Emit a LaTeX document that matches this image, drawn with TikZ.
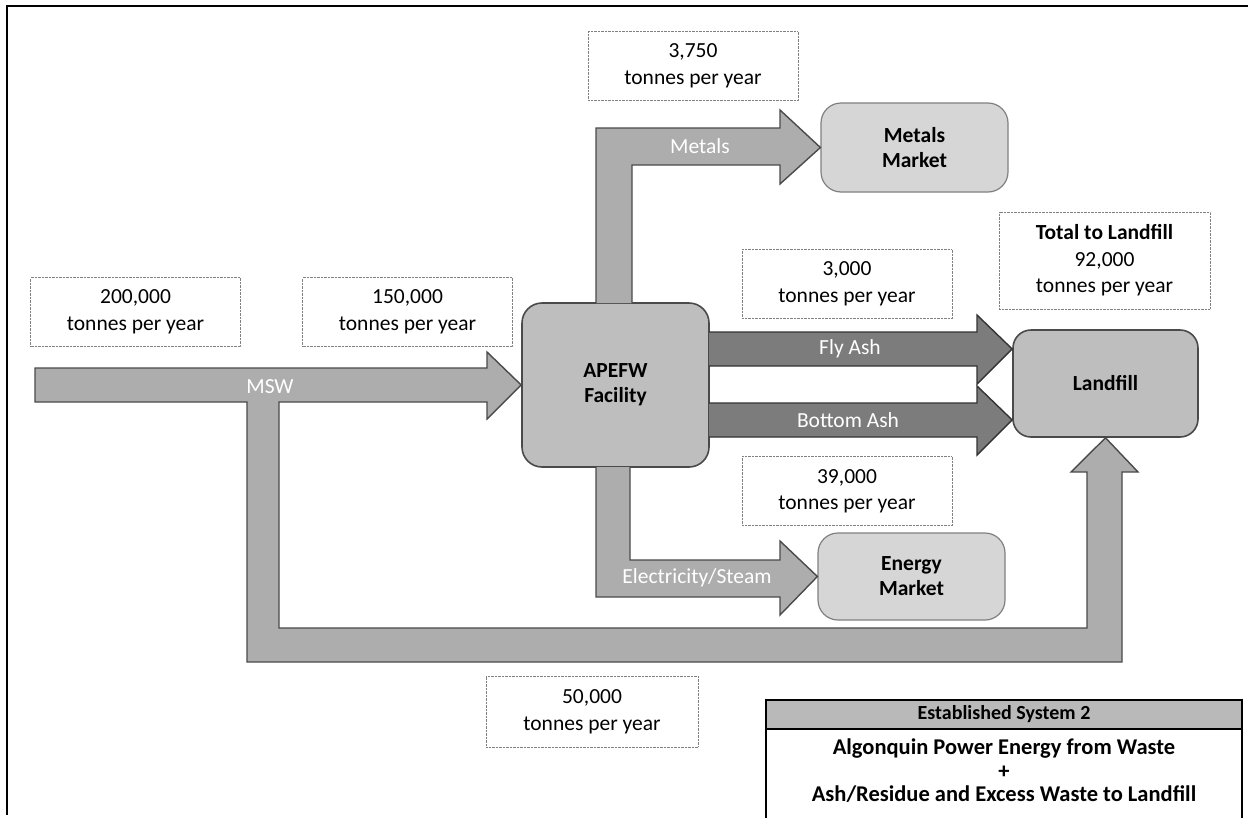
\documentclass[tikz,border=0pt]{standalone}
\usepackage{fontspec}
\setmainfont{Carlito}

\definecolor{flowgray}{HTML}{ADADAD}
\definecolor{ashgray}{HTML}{7C7C7C}
\definecolor{boxgray}{HTML}{BEBEBE}
\definecolor{marketgray}{HTML}{D6D6D6}
\definecolor{edgegray}{HTML}{4A4A4A}

\tikzset{
	tonnes/.style={draw=gray, densely dotted, fill=white, minimum width=210pt, minimum height=69pt, align=center, font=\fontsize{21.5}{26.5}\selectfont},
	site/.style={draw=edgegray, line width=1.6pt, rounded corners=20pt, fill=boxgray, align=center, font=\bfseries\fontsize{21.5}{25}\selectfont},
	market/.style={site, draw=gray, line width=1.2pt, fill=marketgray},
	flow/.style={fill=flowgray, draw=edgegray, line width=1.4pt},
	ash/.style={flow, fill=ashgray, draw=black!80},
	flowtext/.style={text=white, font=\fontsize{21.5}{24}\selectfont}
}

\begin{document}
\begin{tikzpicture}[x=1pt, y=-1pt]
				\useasboundingbox (0,0) rectangle (1248,817);
				\draw[line width=1.5pt] (1248,6) -- (7,6) -- (7,815);
				
				\node[site, minimum width=187pt, minimum height=164pt] (apefw) at (615.5,385) {APEFW\\Facility};
				\node[site, minimum width=185pt, minimum height=107pt, rounded corners=18pt] (landfill) at (1105.5,383.5) {Landfill};
				\node[market, minimum width=187pt, minimum height=89pt] (metals) at (914.5,147.5) {Metals\\Market};
				\node[market, minimum width=187pt, minimum height=87pt] (energy) at (911.5,576.5) {Energy\\Market};
				
				\node[tonnes] (msw200) at (135.5,312) {200,000\\tonnes per year};
				\node[tonnes] (msw150) at (407.5,312) {150,000\\tonnes per year};
				\node[tonnes] (metals3750) at (693,66) {3,750\\tonnes per year};
				\node[tonnes] (fly3000) at (847,284) {3,000\\tonnes per year};
				\node[tonnes] (bottom39000) at (847,491) {39,000\\tonnes per year};
				\node[tonnes, minimum width=211pt, minimum height=97pt] (total92000) at (1104.5,260.5) {\textbf{Total to Landfill}\\92,000\\tonnes per year};
				\node[tonnes, minimum width=212pt, minimum height=71pt] (msw50000) at (592,711.5) {50,000\\tonnes per year};
				
				% MSW in, split to facility and landfill
				\draw[flow] (35,368) -- (487,368) -- (487,352) -- (apefw.west) -- (487,419) -- (487,402) -- (279,402) -- (279,628) -- (1087,628) -- (1087,472) -- (1071,472) -- (landfill.south) -- (1138,472) -- (1122,472) -- (1122,662) -- (247,662) -- (247,402) -- (35,402) -- cycle;
				
				\draw[flow] (596,303) -- (596,128) -- (780,128) -- (780,110) -- (metals.west) -- (780,184) -- (780,165) -- (632,165) -- (632,303);
				\draw[flow] (596,467) -- (596,597) -- (780,597) -- (780,615) -- (energy.west) -- (780,541) -- (780,560) -- (630,560) -- (630,467);
				
				\draw[ash] (709,332) -- (977,332) -- (977,315) -- (landfill.west |- 0,349) -- (977,384) -- (977,366) -- (709,366);
				\draw[ash] (709,403) -- (977,403) -- (977,386) -- (landfill.west |- 0,420) -- (977,455) -- (977,437) -- (709,437);
				
				\node[flowtext] (msw) at (270,387) {MSW};
				\node[flowtext] (metalsflow) at (700,146) {Metals};
				\node[flowtext] (flyash) at (850,349) {Fly Ash};
				\node[flowtext] (bottomash) at (848,420) {Bottom Ash};
				\node[flowtext] (steam) at (697,578) {Electricity/Steam};
				
				\draw[line width=2pt, fill=flowgray!85] (766,700) rectangle (1242,729);
				\draw[line width=2pt] (766,729) rectangle (1242,830);
				\node[font=\bfseries\fontsize{20}{24}\selectfont] (legendhead) at (1004,714) {Established System 2};
				\node[align=center, font=\bfseries\fontsize{22.5}{23.5}\selectfont] (legendbody) at (1004,771) {Algonquin Power Energy from Waste\\+\\Ash/Residue and Excess Waste to Landfill};
			\end{tikzpicture}
\end{document}
